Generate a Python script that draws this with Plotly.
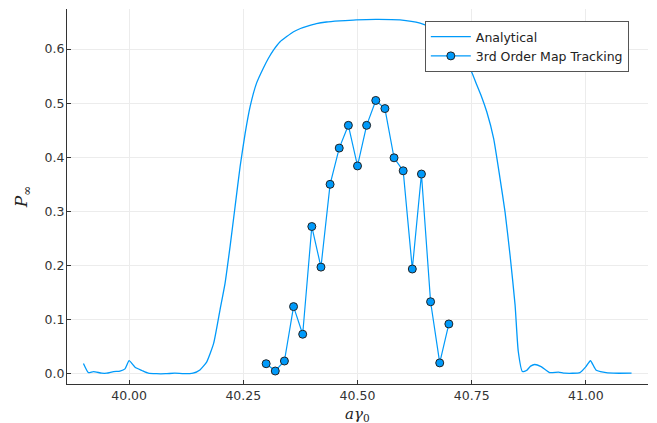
import plotly.graph_objects as go

# Analytical curve
x_analytical = [39.900, 39.911, 39.922, 39.940, 39.951, 39.966, 39.980, 39.991, 40.000, 40.013,
                40.028, 40.042, 40.060, 40.080, 40.100, 40.120, 40.140, 40.155, 40.170, 40.185,
                40.199, 40.210, 40.221, 40.232, 40.243, 40.254, 40.265, 40.279, 40.294, 40.305,
                40.316, 40.330, 40.345, 40.360, 40.375, 40.389, 40.410, 40.432, 40.461, 40.497,
                40.540, 40.593, 40.637, 40.660, 40.690, 40.715, 40.737, 40.750, 40.761, 40.772,
                40.783, 40.798, 40.812, 40.823, 40.834, 40.845, 40.852, 40.861, 40.870, 40.879,
                40.888, 40.902, 40.921, 40.940, 40.954, 40.987, 41.000, 41.010, 41.022, 41.038,
                41.060, 41.100]
y_analytical = [0.019, 0.002, 0.004, 0.001, 0.001, 0.004, 0.005, 0.009, 0.024, 0.012,
                0.006, 0.001, 0.000, 0.000, 0.001, 0.000, 0.001, 0.007, 0.022, 0.056,
                0.118, 0.167, 0.235, 0.309, 0.383, 0.444, 0.494, 0.537, 0.565, 0.583,
                0.598, 0.613, 0.623, 0.632, 0.638, 0.642, 0.647, 0.650, 0.652, 0.654,
                0.655, 0.654, 0.648, 0.640, 0.624, 0.603, 0.576, 0.557, 0.534, 0.511,
                0.484, 0.435, 0.361, 0.299, 0.219, 0.127, 0.041, 0.004, 0.006, 0.014,
                0.017, 0.013, 0.002, 0.003, 0.001, 0.002, 0.013, 0.024, 0.007, 0.003,
                0.001, 0.001]

# 3rd order map tracking
x_tracking = [40.30, 40.32, 40.34, 40.36, 40.38, 40.40, 40.42, 40.44, 40.46, 40.48, 40.50,
              40.52, 40.54, 40.56, 40.58, 40.60, 40.62, 40.64, 40.66, 40.68, 40.70]
y_tracking = [0.0185, 0.005, 0.0235, 0.124, 0.073, 0.272, 0.197, 0.350, 0.417, 0.459, 0.384,
              0.459, 0.505, 0.490, 0.399, 0.375, 0.1935, 0.369, 0.133, 0.020, 0.092]

x_ticks = [40.00, 40.25, 40.50, 40.75, 41.00]
y_ticks = [0.0, 0.1, 0.2, 0.3, 0.4, 0.5, 0.6]

BLUE = "#009AFA"

fig = go.Figure()
fig.add_trace(go.Scatter(x=x_analytical, y=y_analytical, mode="lines",
                         name="Analytical",
                         line=dict(color=BLUE, width=1.3, shape="spline", smoothing=0.5)))
fig.add_trace(go.Scatter(x=x_tracking, y=y_tracking, mode="lines+markers",
                         name="3rd Order Map Tracking",
                         line=dict(color=BLUE, width=1.2),
                         marker=dict(color=BLUE, size=8,
                                     line=dict(color="#222222", width=1))))

axis_common = dict(
    showline=True, linecolor="#333333", linewidth=1.2, mirror=False,
    showgrid=True, gridcolor="#ececec", gridwidth=1, zeroline=False,
    ticks="inside", ticklen=4, tickcolor="#333333", automargin=False,
    tickfont=dict(family="DejaVu Sans", size=12.5, color="#333333"),
)

fig.update_layout(
    width=657, height=423,
    margin=dict(l=67, r=9, t=9, b=39),
    paper_bgcolor="white", plot_bgcolor="white",
    showlegend=True,
    legend=dict(x=0.967, y=0.968, xanchor="right", yanchor="top",
                bgcolor="white", bordercolor="#555555", borderwidth=1,
                font=dict(family="DejaVu Sans", size=12.5, color="#222222"),
                tracegroupgap=0, itemwidth=40),
    xaxis=dict(range=[39.864, 41.136], tickvals=x_ticks,
               ticktext=[f"{v:.2f}" for v in x_ticks],
               **axis_common),
    yaxis=dict(range=[-0.019, 0.674], tickvals=y_ticks,
               ticktext=[f"{v:.1f}" for v in y_ticks], ticklabelstandoff=-1,
               title=dict(text="<i>P</i><sub>∞</sub>", standoff=12,
                          font=dict(family="DejaVu Serif", size=17, color="#222222")),
               **axis_common),
    annotations=[dict(text="<i>aγ</i><sub>0</sub>", xref="paper", yref="paper",
                      x=0.5, y=-0.053, xanchor="center", yanchor="top",
                      showarrow=False, borderpad=0,
                      font=dict(family="DejaVu Serif", size=15, color="#222222"))],
)

fig.write_html("out.html", config={"displayModeBar": False},
               post_script="document.body.style.margin='0';document.body.style.overflow='hidden';")
